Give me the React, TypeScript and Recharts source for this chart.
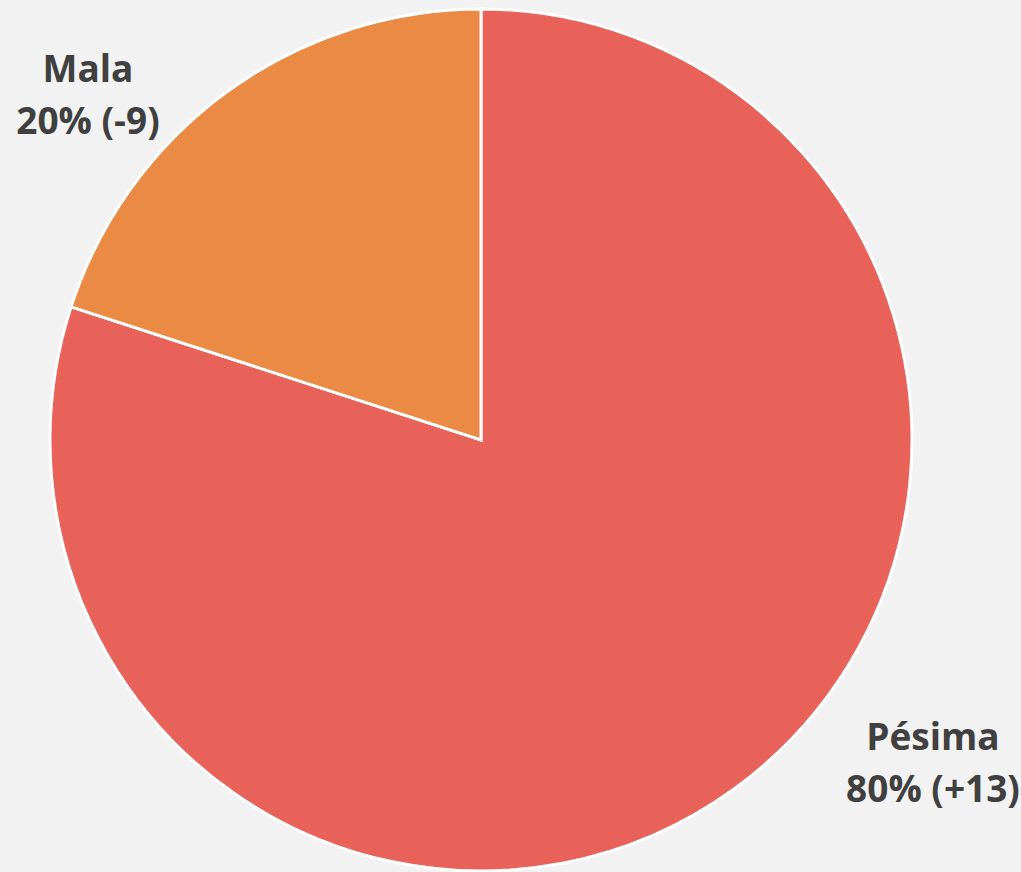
import { PieChart, Pie, Cell } from 'recharts';

const categories = ['Pésima', 'Mala'];
const shares = [80, 20];
const changes = ['+13', '-9'];
const colors = ['#e8625a', '#eb8a45'];

const data = categories.map((name, i) => ({ name, value: shares[i], change: changes[i] }));

// label placement relative to the pie centre (Excel puts them outside, off the mid-angle)
const labelOffsets: Record<string, { dx: number; dy: number }> = {
  'Pésima': { dx: 452, dy: 310 },
  Mala: { dx: -393, dy: -358 },
};

const renderLabel = (props: any) => {
  const { cx, cy, name, value, payload } = props;
  const off = labelOffsets[name];
  const x = cx + off.dx;
  const y = cy + off.dy;
  return (
    <text
      x={x}
      y={y}
      textAnchor="middle"
      fill="#404040"
      style={{ fontFamily: '"Open Sans", sans-serif', fontWeight: 700, fontSize: 37 }}
    >
      <tspan x={x} y={y}>{name}</tspan>
      <tspan x={x} y={y + 52}>{`${value}% (${payload.change})`}</tspan>
    </text>
  );
};

export default function App() {
  return (
    <div style={{ position: 'absolute', left: 0, top: 0, width: 1021, height: 872, background: '#f2f2f2' }}>
      <PieChart width={1021} height={872} margin={{ top: 0, right: 0, bottom: 0, left: 0 }}>
        <Pie
          data={data}
          dataKey="value"
          nameKey="name"
          cx={481}
          cy={440}
          outerRadius={431}
          startAngle={90}
          endAngle={-270}
          stroke="#ffffff"
          strokeWidth={3}
          label={renderLabel}
          labelLine={false}
          isAnimationActive={false}
        >
          {data.map((d, i) => (
            <Cell key={d.name} fill={colors[i]} />
          ))}
        </Pie>
      </PieChart>
    </div>
  );
}
